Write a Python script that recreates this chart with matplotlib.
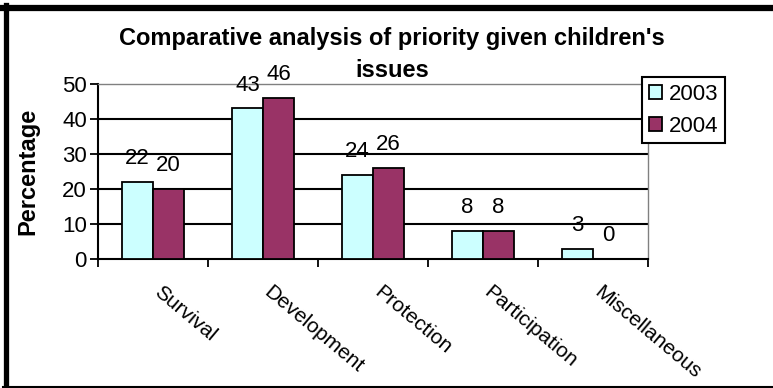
import numpy as np
import matplotlib.pyplot as plt
from matplotlib.lines import Line2D

# data
categories = ["Survival", "Development", "Protection", "Participation", "Miscellaneous"]
years = ["2003", "2004"]
values_2003 = [22, 43, 24, 8, 3]
values_2004 = [20, 46, 26, 8, 0]
yticks = [0, 10, 20, 30, 40, 50]

plt.rcParams['font.family'] = ['Liberation Sans', 'DejaVu Sans']

W, H = 773, 388
fig = plt.figure(figsize=(W / 100, H / 100), dpi=100)

# plot area in pixels (left, right, top, bottom from top)
L, R, T, B = 98, 648, 84, 259
ax = fig.add_axes([L / W, 1 - B / H, (R - L) / W, (B - T) / H])

x = np.arange(len(categories))
bw = 0.28
colors = ["#CCFFFF", "#993366"]
series = [values_2003, values_2004]

for k, (vals, col, yr) in enumerate(zip(series, colors, years)):
    xs = x + (k - 0.5) * bw
    ax.bar(xs, vals, width=bw, color=col, edgecolor="black", linewidth=1.3,
           zorder=3, label=yr)
    for xi, v in zip(xs, vals):
        ax.annotate(str(v), xy=(xi, v), xytext=(0, 9), textcoords="offset points",
                    ha="center", va="bottom", fontsize=16, zorder=4)

ax.set_xlim(-0.5, len(categories) - 0.5)
ax.set_ylim(0, 50)
ax.set_yticks(yticks)
ax.tick_params(axis="y", labelsize=16, length=6, width=1.3, pad=2, direction="out")

# category boundary ticks, labels drawn separately
ax.set_xticks(np.arange(len(categories) + 1) - 0.5)
ax.set_xticklabels([])
ax.tick_params(axis="x", length=6, width=1.3, direction="out")

for c, name in zip(x, categories):
    ax.annotate(name, xy=(c, 0), xycoords=("data", "axes fraction"),
                xytext=(7, -17), textcoords="offset points",
                rotation=-40, rotation_mode="anchor", ha="left", va="top",
                fontsize=15)

# gridlines
for t in yticks[1:-1]:
    ax.axhline(t, color="black", linewidth=1.5, zorder=1)

for s in ["top", "right"]:
    ax.spines[s].set_color("#808080")
    ax.spines[s].set_linewidth(1.0)
for s in ["left", "bottom"]:
    ax.spines[s].set_color("black")
    ax.spines[s].set_linewidth(1.5)

# title, two lines as in the original
fig.text(392 / W, 1 - 45 / H, "Comparative analysis of priority given children's",
         ha="center", va="baseline", fontsize=17, fontweight="bold")
fig.text(392 / W, 1 - 77 / H, "issues",
         ha="center", va="baseline", fontsize=17, fontweight="bold")

fig.text(28 / W, 1 - 171 / H, "Percentage", rotation=90, ha="center", va="center",
         fontsize=17, fontweight="bold")

leg = ax.legend(loc="upper left", bbox_to_anchor=(642 / W, 1 - 77 / H),
                bbox_transform=fig.transFigure, borderaxespad=0, fontsize=16,
                fancybox=False, framealpha=1, edgecolor="black",
                handlelength=0.6, handleheight=0.6, handletextpad=0.3,
                borderpad=0.3, labelspacing=0.5)
leg.get_frame().set_linewidth(1.5)

# figure border (cropped on the right)
fig.add_artist(Line2D([3 / W, 1], [1 - 8 / H, 1 - 8 / H], color="black", linewidth=4.5,
                      transform=fig.transFigure))
fig.add_artist(Line2D([5.5 / W, 5.5 / W], [0, 1 - 5 / H], color="black", linewidth=3.8,
                      transform=fig.transFigure))
fig.add_artist(Line2D([3 / W, 1], [1 / H, 1 / H], color="black", linewidth=1.5,
                      transform=fig.transFigure))

fig.savefig("out.png", dpi=100)
